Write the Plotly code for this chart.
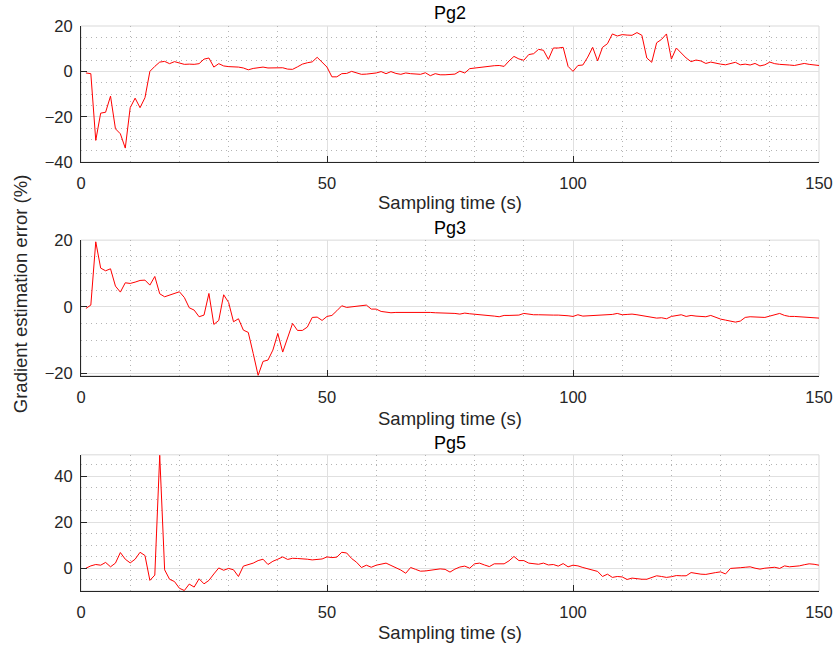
import plotly.graph_objects as go

t = list(range(1, 151))

pg2 = [-0.7, -1.0, -30.4, -18.4, -18.0, -10.9, -25.3, -27.5, -33.8, -16.0,
       -11.8, -16.0, -11.6, 0.0, 2.2, 4.1, 4.4, 3.4, 4.3, 3.7,
       3.1, 3.2, 3.1, 3.4, 5.4, 5.9, 1.9, 3.4, 2.4, 2.1,
       2.1, 1.9, 1.5, 0.7, 1.3, 1.5, 1.9, 1.5, 1.5, 1.6,
       1.6, 1.0, 0.9, 2.0, 3.2, 3.8, 4.2, 6.2, 4.2, 1.9,
       -2.4, -2.4, -1.0, -0.9, 0.0, -0.6, -1.3, -1.2, -1.0, -0.7,
       -0.1, -1.0, -0.1, -0.9, -1.3, -0.7, -1.0, -1.0, -1.3, -0.6,
       -1.9, -1.0, -1.5, -1.5, -1.3, -1.2, 0.1, -0.7, 1.2, 1.5,
       1.8, 1.8, 2.2, 2.5, 2.6, 2.2, 4.6, 6.6, 5.5, 4.9,
       7.4, 7.8, 9.7, 9.3, 5.3, 10.3, 10.3, 10.6, 2.2, 0.0,
       2.6, 2.8, 6.3, 10.6, 4.6, 10.6, 12.2, 16.5, 15.6, 16.2,
       16.0, 15.9, 17.1, 15.9, 5.9, 4.0, 12.6, 14.1, 16.5, 5.4,
       10.3, 8.1, 5.9, 4.3, 5.0, 4.6, 3.5, 4.1, 3.5, 3.2,
       2.9, 3.5, 4.0, 2.9, 3.2, 2.8, 3.5, 2.4, 2.9, 4.1,
       3.4, 3.1, 3.1, 2.8, 2.6, 3.2, 3.5, 3.1, 3.0, 2.6]

pg3 = [-0.5, 0.5, 19.5, 11.6, 10.8, 11.4, 6.2, 4.4, 7.2, 7.0,
       7.4, 7.9, 8.0, 6.5, 9.1, 3.9, 3.0, 3.5, 3.8, 4.5,
       2.8, -0.3, -1.0, -3.0, -2.5, 4.0, -5.3, -4.1, 3.6, 1.3,
       -4.5, -3.6, -7.0, -7.7, -14.0, -20.6, -16.4, -16.0, -13.0, -8.0,
       -13.6, -9.3, -5.0, -7.1, -7.1, -6.1, -3.2, -3.1, -4.1, -2.9,
       -2.6, -1.2, 0.3, -0.2, 0.0, 0.3, 0.4, 0.5, -0.7, -0.7,
       -1.4, -1.7, -1.8, -1.7, -1.7, -1.6, -1.5, -1.5, -1.6, -1.6,
       -1.7, -1.8, -1.8, -1.9, -1.9, -2.0, -2.2, -1.9, -2.1, -2.2,
       -2.3, -2.5, -2.6, -2.8, -3.0, -2.6, -2.6, -2.6, -2.5, -2.0,
       -2.3, -2.4, -2.4, -2.5, -2.5, -2.5, -2.5, -2.5, -2.7, -2.9,
       -2.4, -2.8, -2.7, -2.7, -2.7, -2.4, -2.3, -2.3, -2.0, -2.4,
       -2.3, -2.2, -2.4, -2.6, -2.8, -3.1, -3.4, -3.3, -3.6, -2.9,
       -2.6, -2.4, -2.9, -2.6, -2.8, -3.0, -3.0, -2.6, -3.2, -3.7,
       -4.0, -4.2, -4.6, -4.3, -3.2, -3.0, -3.0, -3.1, -3.2, -2.8,
       -2.4, -2.0, -2.6, -2.9, -2.9, -3.0, -3.3, -3.3, -3.3, -3.4]

pg5 = [0.0, 1.0, 1.6, 1.3, 2.5, 0.6, 2.2, 6.8, 3.9, 2.3,
       3.9, 6.9, 5.5, -5.3, -3.0, 49.0, -0.7, -4.8, -5.8, -8.7,
       -9.7, -6.9, -8.2, -4.6, -6.8, -5.3, -2.5, 0.1, -0.9, -0.1,
       -0.7, -3.6, 0.9, 1.6, 2.2, 3.3, 3.9, 1.6, 3.0, 3.9,
       4.9, 3.8, 4.3, 4.2, 4.2, 3.9, 3.6, 3.8, 4.0, 4.9,
       4.6, 4.8, 6.9, 6.6, 4.2, 2.6, 0.3, 1.3, 0.4, 1.3,
       1.7, 2.2, 1.2, 0.3, -0.8, -2.2, 0.3, -0.5, -1.3, -1.2,
       -0.8, -0.4, -0.3, -0.5, -1.7, -0.4, 0.5, 0.9, 0.0, 1.9,
       2.2, 1.4, 0.7, 1.9, 1.9, 1.9, 3.2, 5.1, 3.3, 3.3,
       2.2, 1.9, 1.7, 2.2, 1.4, 1.6, 0.9, 2.0, 0.6, 1.3,
       1.0, 0.3, -0.2, -0.7, -1.4, -3.6, -2.6, -4.0, -3.6, -3.8,
       -4.9, -4.3, -4.6, -4.8, -4.8, -4.2, -3.3, -3.6, -4.0, -3.7,
       -3.2, -3.3, -3.3, -1.9, -2.3, -2.6, -2.7, -2.2, -1.9, -1.6,
       -2.5, -0.1, -0.1, 0.2, 0.4, 0.6, 0.0, -0.4, 0.0, 0.3,
       0.4, -0.1, 1.0, 0.6, 0.7, 1.0, 1.5, 1.9, 1.7, 1.3]

titles = ["Pg2", "Pg3", "Pg5"]
xlabel = "Sampling time (s)"
ylabel = "Gradient estimation error (%)"
series = [pg2, pg3, pg5]
yranges = [[-40, 20], [-20.7, 20], [-9.9, 49.2]]
domains = [[0.759, 1.0], [0.381, 0.621], [0.0, 0.241]]
title_y = [1.023, 0.642, 0.262]
xlab_y = [0.687, 0.306, -0.074]

FONT = "Liberation Sans, Arial, Helvetica, sans-serif"
AX = "#262626"

fig = go.Figure()
layout = dict(
    width=834, height=645,
    margin=dict(l=81, r=15, t=26, b=54, autoexpand=False),
    paper_bgcolor="white", plot_bgcolor="white",
    showlegend=False,
    font=dict(family=FONT, size=16, color=AX),
)
annotations = []
shapes = []
for i, (ys, tt) in enumerate(zip(series, titles)):
    n = "" if i == 0 else str(i + 1)
    fig.add_trace(go.Scatter(x=t, y=ys, mode="lines",
                             line=dict(color="#ff0000", width=1),
                             xaxis="x" + n, yaxis="y" + n))
    layout["xaxis" + n] = dict(
        domain=[0, 1], anchor="y" + n, range=[0, 150], automargin=False,
        tickvals=[0, 50, 100, 150], ticks="inside", ticklen=6,
        tickcolor=AX, showline=True, linecolor=AX, linewidth=1,
        showgrid=True, gridcolor="#e0e0e0", gridwidth=1, zeroline=False,
        tickfont=dict(size=16.5, color=AX), ticklabelstandoff=6,
        minor=dict(dtick=10, tick0=0, showgrid=True, gridcolor="#b4b4b4",
                   griddash="1px,4px", gridwidth=1),
    )
    layout["yaxis" + n] = dict(
        domain=domains[i], anchor="x" + n, range=yranges[i], automargin=False,
        dtick=20, tick0=0, ticks="inside", ticklen=6,
        tickcolor=AX, showline=True, linecolor=AX, linewidth=1,
        showgrid=True, gridcolor="#e0e0e0", gridwidth=1, zeroline=False,
        tickfont=dict(size=16.5, color=AX), ticklabelstandoff=4,
        minor=dict(dtick=5, tick0=0, showgrid=True, gridcolor="#b4b4b4",
                   griddash="1px,4px", gridwidth=1),
    )
    shapes.append(dict(type="rect", xref="x" + n + " domain", yref="y" + n + " domain",
                       x0=0, x1=1, y0=0, y1=1, line=dict(color="#d9d9d9", width=1),
                       layer="below"))
    annotations.append(dict(text=tt, x=0.5, y=title_y[i], xref="paper", yref="paper",
                            xanchor="center", yanchor="middle", showarrow=False,
                            font=dict(size=18, color="#000000", family=FONT)))
    annotations.append(dict(text=xlabel, x=0.5, y=xlab_y[i], xref="paper", yref="paper",
                            xanchor="center", yanchor="middle", showarrow=False,
                            font=dict(size=18.5, color=AX, family=FONT)))

annotations.append(dict(text=ylabel, x=-0.0827, y=0.527, xref="paper", yref="paper",
                        xanchor="center", yanchor="middle", showarrow=False, textangle=-90,
                        font=dict(size=18.5, color=AX, family=FONT)))
layout["annotations"] = annotations
layout["shapes"] = shapes
fig.update_layout(**layout)
fig.write_html("out.html")
